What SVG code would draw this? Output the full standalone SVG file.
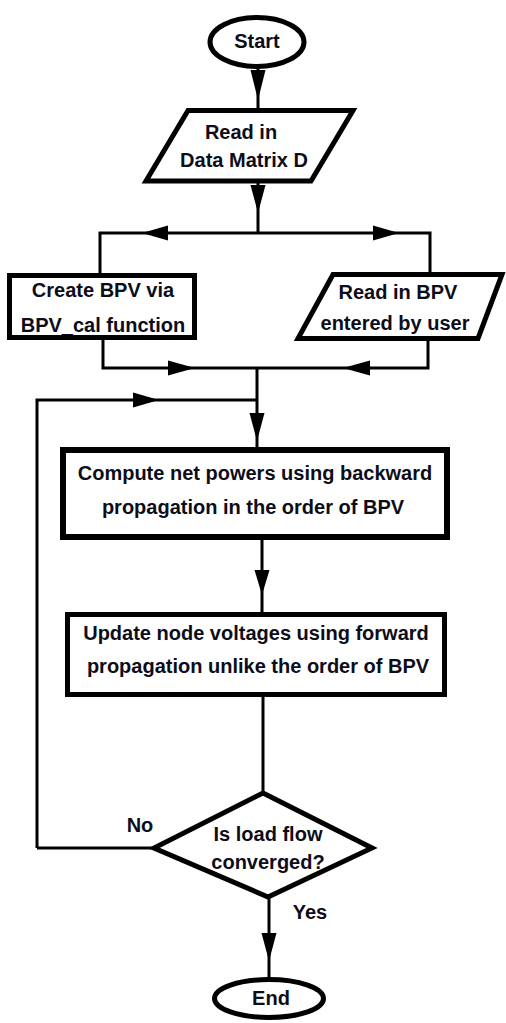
<svg xmlns="http://www.w3.org/2000/svg" width="506" height="1023" viewBox="0 0 506 1023">
<style>
.s{fill:#fff;stroke:#000;stroke-width:5;stroke-linejoin:miter}
.t{font-family:"Liberation Sans",Arial,sans-serif;font-weight:bold;font-size:20px;fill:#0d0d1a;text-anchor:middle;dominant-baseline:central}
.l{fill:none;stroke:#000;stroke-width:3}
.a{fill:#000}
</style>
<rect width="506" height="1023" fill="#fff"/>
<g id="connectors">
<path class="l" d="M258,68V108M258,183V233M100,273V233H430V273M103,340V368H428V340M257,368V448M37,848V400H257M262,540V613M263,697V793M269,898V977M153,848H37"/>
<polygon class="a" points="250.5,70 265.5,70 258,100"/>
<polygon class="a" points="250.5,185 265.5,185 258,213"/>
<polygon class="a" points="168,225.5 168,240.5 142,233"/>
<polygon class="a" points="373,225.5 373,240.5 399,233"/>
<polygon class="a" points="168,360.5 168,375.5 195,368"/>
<polygon class="a" points="370,360.5 370,375.5 343,368"/>
<polygon class="a" points="249.5,413 264.5,413 257,441"/>
<polygon class="a" points="133,392.5 133,407.5 159,400"/>
<polygon class="a" points="254.5,570 269.5,570 262,595"/>
<polygon class="a" points="261.5,933 276.5,933 269,961"/>
</g>
<g id="start">
<ellipse class="s" cx="257" cy="42" rx="47" ry="24.5"/>
<text class="t" x="257" y="41">Start</text>
</g>
<g id="readD">
<polygon class="s" points="188,110.5 353,110.5 311,181 146,181"/>
<text class="t" x="241" y="132">Read in</text>
<text class="t" x="244" y="160">Data Matrix D</text>
</g>
<g id="createBPV">
<rect class="s" x="9.5" y="275.5" width="185" height="62"/>
<text class="t" x="103" y="290">Create BPV via</text>
<text class="t" x="103" y="325">BPV_cal function</text>
</g>
<g id="readBPV">
<polygon class="s" points="333,274.5 502,274.5 478,338.5 298,338.5"/>
<text class="t" x="398" y="292">Read in BPV</text>
<text class="t" x="395" y="323">entered by user</text>
</g>
<g id="compute">
<rect class="s" x="63" y="450" width="384" height="87" style="stroke-width:6"/>
<text class="t" x="255" y="473">Compute net powers using backward</text>
<text class="t" x="253" y="507">propagation in the order of BPV</text>
</g>
<g id="update">
<rect class="s" x="67.5" y="614.5" width="377" height="80"/>
<text class="t" x="256" y="633">Update node voltages using forward</text>
<text class="t" x="258" y="666">propagation  unlike the order of BPV</text>
</g>
<g id="decision">
<polygon class="s" points="263,793 372,848 268,897 154,848"/>
<text class="t" x="268" y="834">Is load flow</text>
<text class="t" x="268" y="862">converged?</text>
</g>
<g id="end">
<ellipse class="s" cx="269" cy="998.5" rx="54.5" ry="19"/>
<text class="t" x="271" y="998">End</text>
</g>
<g id="labels">
<text class="t" x="140" y="825">No</text>
<text class="t" x="310" y="912">Yes</text>
</g>
</svg>
